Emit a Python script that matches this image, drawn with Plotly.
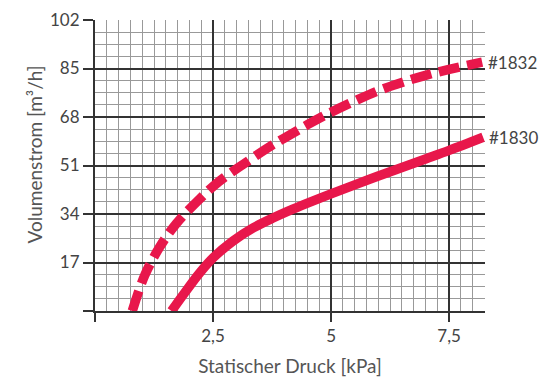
import plotly.graph_objects as go

# Data
x_1830 = [1.62, 1.9, 2.22, 2.5, 2.92, 3.35, 3.77, 4.19, 4.62, 5.04, 5.5, 6.0, 6.5, 7.0, 7.5, 8.22]
y_1830 = [0, 6.4, 13.4, 18.6, 24.5, 29.1, 32.6, 35.7, 38.6, 41.3, 44.2, 47.3, 50.3, 53.3, 56.3, 60.9]

x_1832 = [0.79, 1.05, 1.37, 1.72, 2.22, 2.62, 3.2, 3.74, 4.0, 4.5, 5.0, 5.5, 6.0, 6.5, 7.0, 7.5, 8.2]
y_1832 = [0, 12.4, 22.4, 30.6, 39.3, 45.3, 52.1, 58.0, 60.5, 65.3, 69.7, 73.6, 77.2, 80.1, 82.6, 84.7, 87.2]

x_tickvals = [0, 2.5, 5, 7.5]
x_ticktext = ["", "2,5", "5", "7,5"]
y_tickvals = [0, 17, 34, 51, 68, 85, 102]
y_ticktext = ["", "17", "34", "51", "68", "85", "102"]

series_names = ["#1832", "#1830"]
x_title = "Statischer Druck [kPa]"
y_title = "Volumenstrom [m³/h]"

RED = "#E8174B"
FONT = "Lato"

fig = go.Figure()
fig.add_trace(go.Scatter(x=x_1832, y=y_1832, mode="lines", name=series_names[0],
                         line=dict(color=RED, width=9.5, dash="21px,8px", shape="spline", smoothing=1)))
fig.add_trace(go.Scatter(x=x_1830, y=y_1830, mode="lines", name=series_names[1],
                         line=dict(color=RED, width=9.5, shape="spline", smoothing=1)))

for xs, ys, nm in [(x_1832, y_1832, series_names[0]), (x_1830, y_1830, series_names[1])]:
    fig.add_annotation(x=xs[-1], y=ys[-1], text=nm, showarrow=False, xanchor="left",
                       yanchor="middle", xshift=4, font=dict(family=FONT, size=17, color="#444"))

# y-axis title (placed as rotated text, slightly above the plot centre as in the reference)
fig.add_annotation(text=y_title, xref="paper", yref="paper", x=0, y=0.538, xshift=-61,
                   xanchor="center", yanchor="middle", textangle=-90, showarrow=False,
                   font=dict(family=FONT, size=19, color="#555"))

# the page body has an 8px default margin, so the figure is sized 8px smaller
fig.update_layout(
    width=540, height=375,
    margin=dict(l=87, r=63, t=12, b=72, autoexpand=False),
    paper_bgcolor="white", plot_bgcolor="white",
    showlegend=False,
    font=dict(family=FONT, size=16, color="#444"),
)
fig.update_xaxes(
    range=[0, 8.26], tickmode="array", tickvals=x_tickvals, ticktext=x_ticktext,
    ticks="outside", ticklen=9, tickwidth=2, tickcolor="#333",
    showgrid=True, gridcolor="#333", gridwidth=2,
    minor=dict(dtick=0.25, tick0=0, showgrid=True, gridcolor="#999", gridwidth=1),
    showline=True, linecolor="#333", linewidth=2,
    zeroline=False, fixedrange=True, automargin=False,
    title=dict(text=x_title, font=dict(family=FONT, size=19, color="#555"), standoff=14),
    tickfont=dict(family=FONT, size=17, color="#444"),
)
fig.update_yaxes(
    range=[0, 102], tickmode="array", tickvals=y_tickvals, ticktext=y_ticktext,
    ticks="outside", ticklen=10, tickwidth=2, tickcolor="#333",
    showgrid=True, gridcolor="#333", gridwidth=2,
    minor=dict(dtick=4.25, tick0=0, showgrid=True, gridcolor="#999", gridwidth=1),
    showline=True, linecolor="#333", linewidth=2,
    zeroline=False, fixedrange=True, automargin=False,
    tickfont=dict(family=FONT, size=17, color="#444"),
)

fig.write_html("out.html")
